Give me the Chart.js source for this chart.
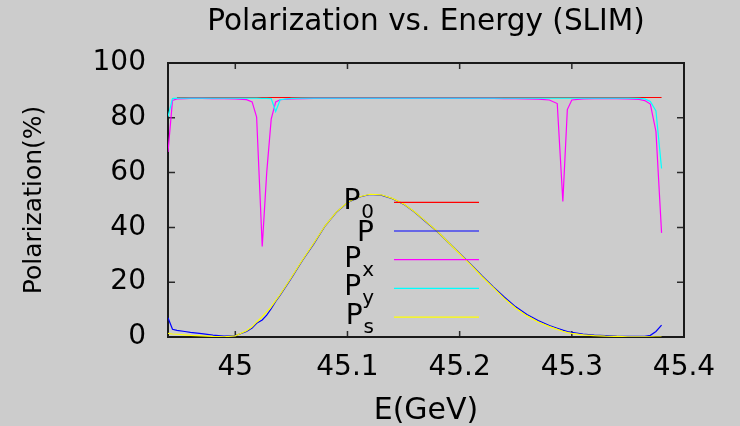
<!DOCTYPE html>
<html>
<head>
<meta charset="utf-8">
<title>Polarization vs. Energy (SLIM)</title>
<script src="https://cdn.jsdelivr.net/npm/chart.js@4.4.0/dist/chart.umd.min.js"></script>
<style>
  html, body { margin: 0; padding: 0; background: #cccccc; }
  #wrap { width: 740px; height: 426px; }
</style>
</head>
<body>
<div id="wrap"><canvas id="polChart" width="740" height="426"></canvas></div>
<script>
// energy scan points (GeV), shared by P, Px, Py, Ps
const energies = [
  44.940, 44.944, 44.948, 44.955, 44.960, 44.970, 44.980, 44.990, 45.000, 45.010,
  45.015, 45.019, 45.024, 45.028, 45.032, 45.036, 45.040, 45.050, 45.060, 45.070,
  45.080, 45.090, 45.100, 45.110, 45.120, 45.130, 45.140, 45.150, 45.160, 45.170,
  45.180, 45.190, 45.200, 45.210, 45.220, 45.230, 45.240, 45.250, 45.260, 45.270,
  45.280, 45.287, 45.292, 45.296, 45.300, 45.310, 45.320, 45.330, 45.340, 45.350,
  45.360, 45.365, 45.370, 45.375, 45.380
];

// P0 is flat, only its two ends
const p0Energy = [44.948, 45.380];
const p0Values = [87.4, 87.4];

const pValues = [
  7.0, 2.8, 2.4, 2.0, 1.7, 1.2, 0.7, 0.3, 0.5, 2.0,
  3.3, 5.0, 6.2, 8.0, 10.3, 13.0, 15.3, 21.5, 28.0, 34.0,
  40.5, 45.5, 49.0, 51.0, 52.0, 51.8, 50.5, 48.5, 45.5, 42.0,
  38.5, 34.5, 30.5, 26.5, 22.3, 18.3, 14.5, 11.0, 8.2, 6.0,
  4.2, 3.2, 2.5, 2.0, 1.7, 1.1, 0.7, 0.5, 0.3, 0.2,
  0.2, 0.2, 0.6, 2.0, 4.3
];

const pxValues = [
  67.5, 86.3, 86.9, 87.0, 87.1, 87.1, 87.0, 87.0, 86.9, 86.6,
  85.8, 80.3, 33.0, 60.0, 79.5, 85.8, 86.6, 86.9, 87.0, 87.1,
  87.1, 87.1, 87.1, 87.1, 87.1, 87.1, 87.1, 87.1, 87.1, 87.1,
  87.1, 87.1, 87.1, 87.1, 87.1, 87.1, 87.0, 87.0, 86.9, 86.8,
  86.5, 85.2, 49.5, 83.0, 86.5, 86.9, 87.0, 87.0, 87.0, 86.9,
  86.7, 86.3, 85.0, 75.0, 38.0
];

const pyValues = [
  80.4, 87.0, 87.2, 87.2, 87.2, 87.2, 87.2, 87.2, 87.2, 87.2,
  87.2, 87.2, 87.1, 87.1, 87.0, 82.3, 86.6, 87.1, 87.2, 87.2,
  87.2, 87.2, 87.2, 87.2, 87.2, 87.2, 87.2, 87.2, 87.2, 87.2,
  87.2, 87.2, 87.2, 87.2, 87.2, 87.2, 87.2, 87.2, 87.2, 87.2,
  87.2, 87.2, 87.2, 87.2, 87.2, 87.2, 87.2, 87.2, 87.2, 87.2,
  87.1, 86.9, 86.0, 82.5, 61.5
];

const psValues = [
  1.3, 1.1, 1.0, 0.8, 0.6, 0.4, 0.2, 0.1, 0.4, 2.3,
  3.7, 5.4, 7.4, 9.2, 11.0, 13.3, 15.5, 21.7, 28.2, 34.2,
  40.6, 45.6, 49.1, 51.1, 52.1, 51.9, 50.6, 48.6, 45.6, 42.1,
  38.6, 34.5, 30.4, 26.3, 22.0, 18.0, 14.0, 10.5, 7.7, 5.5,
  3.8, 2.8, 2.1, 1.6, 1.3, 0.8, 0.5, 0.3, 0.2, 0.1,
  0.1, 0.1, 0.1, 0.0, 0.0
];

const xTicks = [45.0, 45.1, 45.2, 45.3, 45.4];
const yTicks = [0, 20, 40, 60, 80, 100];

const FONT = '"DejaVu Sans", "Liberation Sans", sans-serif';

function toPoints(xs, ys) {
  return xs.map(function (x, i) { return { x: x, y: ys[i] }; });
}

// gnuplot look: inward ticks, frame, key with subscripts, titles
const gnuplotLook = {
  id: 'gnuplotLook',
  beforeDatasetsDraw(chart) {
    const ctx = chart.ctx;
    const a = chart.chartArea;
    const xs = chart.scales.x, ys = chart.scales.y;
    ctx.save();
    ctx.strokeStyle = '#2a2a2a';
    ctx.lineWidth = 1.5;
    ctx.beginPath();
    xs.ticks.forEach(function (t) {
      const px = xs.getPixelForValue(t.value);
      ctx.moveTo(px, a.bottom); ctx.lineTo(px, a.bottom - 6);
      ctx.moveTo(px, a.top); ctx.lineTo(px, a.top + 6);
    });
    ys.ticks.forEach(function (t) {
      const py = ys.getPixelForValue(t.value);
      ctx.moveTo(a.left, py); ctx.lineTo(a.left + 7, py);
      ctx.moveTo(a.right, py); ctx.lineTo(a.right - 7, py);
    });
    ctx.stroke();
    ctx.strokeStyle = '#1a1a1a';
    ctx.lineWidth = 2;
    ctx.strokeRect(a.left, a.top, a.right - a.left, a.bottom - a.top);
    ctx.restore();
  },
  afterDraw(chart) {
    const ctx = chart.ctx;
    const a = chart.chartArea;
    const cx = (a.left + a.right) / 2;
    ctx.save();
    ctx.fillStyle = '#000';

    // title
    ctx.font = '29.5px ' + FONT;
    ctx.textAlign = 'center';
    ctx.textBaseline = 'alphabetic';
    ctx.fillText('Polarization vs. Energy (SLIM)', cx, 30);

    // x axis title
    ctx.font = '30px ' + FONT;
    ctx.fillText('E(GeV)', cx, 419);

    // y axis title
    ctx.save();
    ctx.translate(41, (a.top + a.bottom) / 2);
    ctx.rotate(-Math.PI / 2);
    ctx.font = '25px ' + FONT;
    ctx.fillText('Polarization(%)', 0, 0);
    ctx.restore();

    // key
    const textRight = a.left + 206;
    const lineStart = a.left + 226;
    const lineEnd = a.left + 311;
    const rowTop = a.top + 139.3;
    const rowStep = 28.7;
    chart.data.datasets.forEach(function (ds, i) {
      const y = rowTop + i * rowStep;
      const parts = ds.label.split('_');
      ctx.textAlign = 'right';
      if (parts.length > 1) {
        ctx.font = '20px ' + FONT;
        const subW = ctx.measureText(parts[1]).width;
        ctx.fillText(parts[1], textRight, y + 16);
        ctx.font = '28px ' + FONT;
        ctx.fillText(parts[0], textRight - subW - 1, y + 7);
      } else {
        ctx.font = '28px ' + FONT;
        ctx.fillText(parts[0], textRight, y + 10);
      }
      ctx.strokeStyle = ds.borderColor;
      ctx.lineWidth = 1.2;
      ctx.beginPath();
      ctx.moveTo(lineStart, y);
      ctx.lineTo(lineEnd, y);
      ctx.stroke();
    });
    ctx.restore();
  }
};

function series(label, color, pts, order) {
  return {
    label: label,
    data: pts,
    borderColor: color,
    backgroundColor: color,
    borderWidth: 1.2,
    pointRadius: 0,
    tension: 0,
    fill: false,
    order: order
  };
}

const ctx = document.getElementById('polChart').getContext('2d');
const polChart = new Chart(ctx, {
  type: 'line',
  data: {
    datasets: [
      series('P_0', '#ff0000', toPoints(p0Energy, p0Values), 5),
      series('P', '#0000ff', toPoints(energies, pValues), 4),
      series('P_x', '#ff00ff', toPoints(energies, pxValues), 3),
      series('P_y', '#00ffff', toPoints(energies, pyValues), 2),
      series('P_s', '#ffff00', toPoints(energies, psValues), 1)
    ]
  },
  options: {
    responsive: false,
    devicePixelRatio: 1,
    animation: false,
    layout: { padding: { left: 0, right: 56, top: 63, bottom: 0 } },
    plugins: {
      legend: { display: false },
      title: { display: false },
      tooltip: { enabled: false }
    },
    scales: {
      x: {
        type: 'linear',
        min: 44.94,
        max: 45.4,
        afterBuildTicks: function (scale) {
          scale.ticks = xTicks.map(function (v) { return { value: v }; });
        },
        afterFit: function (scale) { scale.height = 89; },
        grid: { display: false, drawTicks: false },
        border: { display: false },
        ticks: {
          color: '#000',
          font: { family: FONT, size: 28 },
          padding: 14,
          maxRotation: 0,
          callback: function (v) { return String(Math.round(v * 10) / 10); }
        }
      },
      y: {
        min: 0,
        max: 100,
        afterBuildTicks: function (scale) {
          scale.ticks = yTicks.map(function (v) { return { value: v }; });
        },
        afterFit: function (scale) { scale.width = 168; },
        grid: { display: false, drawTicks: false },
        border: { display: false },
        ticks: {
          color: '#000',
          font: { family: FONT, size: 28 },
          padding: 22
        }
      }
    }
  },
  plugins: [gnuplotLook]
});
</script>
</body>
</html>
